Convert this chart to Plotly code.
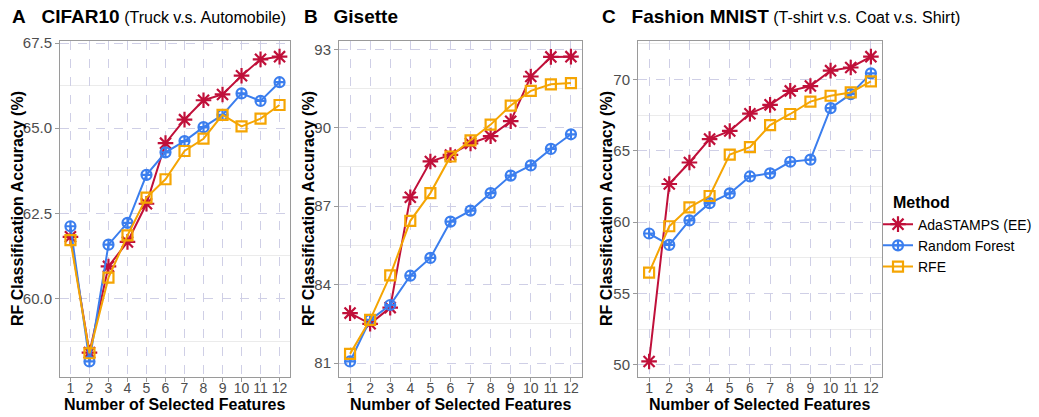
import plotly.graph_objects as go

features = list(range(1, 13))
methods = ["AdaSTAMPS (EE)", "Random Forest", "RFE"]

cifar_ada = [61.81, 58.41, 60.94, 61.66, 62.78, 64.56, 65.25, 65.82, 65.99, 66.54, 67.02, 67.10]
cifar_rf = [62.12, 58.15, 61.58, 62.22, 63.63, 64.29, 64.62, 65.03, 65.39, 66.02, 65.80, 66.35]
cifar_rfe = [61.71, 58.39, 60.61, 61.85, 62.96, 63.50, 64.33, 64.69, 65.39, 65.05, 65.28, 65.68]

gis_ada = [82.91, 82.50, 83.12, 87.34, 88.71, 88.96, 89.40, 89.68, 90.25, 91.96, 92.71, 92.72]
gis_rf = [81.06, 82.65, 83.22, 84.34, 85.02, 86.41, 86.83, 87.50, 88.17, 88.56, 89.19, 89.75]
gis_rfe = [81.35, 82.65, 84.35, 86.44, 87.50, 88.90, 89.52, 90.12, 90.85, 91.41, 91.66, 91.71]

fm_ada = [50.23, 62.67, 64.18, 65.82, 66.39, 67.60, 68.22, 69.20, 69.54, 70.62, 70.84, 71.60]
fm_rf = [59.20, 58.40, 60.12, 61.33, 62.01, 63.20, 63.42, 64.23, 64.38, 67.99, 68.97, 70.43]
fm_rfe = [56.46, 59.71, 61.03, 61.83, 64.73, 65.25, 66.80, 67.58, 68.45, 68.86, 69.09, 69.86]

titles_bold = ["A&nbsp;&nbsp;&nbsp;CIFAR10", "B&nbsp;&nbsp;&nbsp;Gisette", "C&nbsp;&nbsp;&nbsp;Fashion MNIST"]
titles_sub = [" (Truck v.s. Automobile)", "", " (T-shirt v.s. Coat v.s. Shirt)"]
y_ticks = [[60.0, 62.5, 65.0, 67.5], [81, 84, 87, 90, 93], [50, 55, 60, 65, 70]]
y_ticktext = [["60.0", "62.5", "65.0", "67.5"], ["81", "84", "87", "90", "93"], ["50", "55", "60", "65", "70"]]
x_label = "Number of Selected Features"
y_label = "RF Classification Accuracy (%)"
legend_title = "Method"

panels = [
    (cifar_ada, cifar_rf, cifar_rfe),
    (gis_ada, gis_rf, gis_rfe),
    (fm_ada, fm_rf, fm_rfe),
]

colors = ["#C0103A", "#3B7EEE", "#F5A503"]
symbols = ["asterisk-open", "circle-cross-open", "square-open"]
sizes = [13, 10, 10]

W, H = 1039, 417
xdoms = [(60, 290), (339, 582), (638, 882)]
title_x = [10, 302, 600]
ytitle_x = [17, 308, 606]
ytop, ybot = 35, 376
ydom = [1 - ybot / H, 1 - ytop / H]

fig = go.Figure()
FONT = "Liberation Sans, Arial, sans-serif"

for i, series in enumerate(panels):
    xa = "x" if i == 0 else f"x{i+1}"
    ya = "y" if i == 0 else f"y{i+1}"
    for j, vals in enumerate(series):
        fig.add_trace(go.Scatter(
            x=features, y=vals, xaxis=xa, yaxis=ya,
            mode="lines+markers", name=methods[j],
            legendgroup=methods[j], showlegend=(i == 0),
            line=dict(color=colors[j], width=2),
            marker=dict(symbol=symbols[j], size=sizes[j], color=colors[j],
                        line=dict(color=colors[j], width=2.2)),
        ))
    allv = [v for s in series for v in s]
    lo, hi = min(allv), max(allv)
    pad = (hi - lo) * 0.05
    d = y_ticks[i][1] - y_ticks[i][0]
    xkey = "xaxis" if i == 0 else f"xaxis{i+1}"
    ykey = "yaxis" if i == 0 else f"yaxis{i+1}"
    fig.update_layout(**{
        xkey: dict(
            domain=[xdoms[i][0] / W, xdoms[i][1] / W], anchor=ya,
            range=[0.45, 12.55], tickvals=features,
            ticktext=[str(f) for f in features],
            showgrid=True, gridcolor="#CFCFE6", griddash="dash", gridwidth=1,
            showline=True, mirror=True, linecolor="#9A9A9A", linewidth=1,
            ticks="outside", ticklen=4, tickcolor="#9A9A9A",
            ticklabelstandoff=-5,
            tickfont=dict(family=FONT, size=14, color="#4D4D4D"),
            zeroline=False,
        ),
        ykey: dict(
            domain=ydom, anchor=xa,
            range=[lo - pad, hi + pad], tickvals=y_ticks[i], ticktext=y_ticktext[i],
            showgrid=True, gridcolor="#CFCFE6", griddash="dash", gridwidth=1,
            minor=dict(tickvals=[t + d / 2 for t in [y_ticks[i][0] - d] + y_ticks[i]],
                       showgrid=True, gridcolor="#EBEBEB", griddash="solid", gridwidth=1, ticks=""),
            showline=True, mirror=True, linecolor="#9A9A9A", linewidth=1,
            ticks="outside", ticklen=4, tickcolor="#9A9A9A",
            tickfont=dict(family=FONT, size=15, color="#4D4D4D"),
            zeroline=False,
        ),
    })
    # panel title
    fig.add_annotation(
        x=title_x[i] / W, y=1 - 10 / H, xref="paper", yref="paper",
        xanchor="left", yanchor="middle",
        text=f"<b>{titles_bold[i]}</b><span style='font-size:16px'>{titles_sub[i]}</span>",
        showarrow=False, font=dict(family=FONT, size=19, color="black"),
    )
    # x-axis title
    fig.add_annotation(
        x=(xdoms[i][0] + xdoms[i][1]) / 2 / W, y=1 - 404 / H, xref="paper", yref="paper",
        xanchor="center", yanchor="middle", text=f"<b>{x_label}</b>",
        showarrow=False, font=dict(family=FONT, size=16, color="black"),
    )
    # y-axis title
    fig.add_annotation(
        x=ytitle_x[i] / W, y=(ydom[0] + ydom[1]) / 2, xref="paper", yref="paper",
        xanchor="center", yanchor="middle", text=f"<b>{y_label}</b>", textangle=-90,
        showarrow=False, font=dict(family=FONT, size=16, color="black"),
    )

# legend title
fig.add_annotation(
    x=891 / W, y=1 - 199 / H, xref="paper", yref="paper",
    xanchor="left", yanchor="middle", text=f"<b>{legend_title}</b>",
    showarrow=False, font=dict(family=FONT, size=16, color="black"),
)

fig.update_layout(
    width=W, height=H, margin=dict(l=0, r=0, t=0, b=0),
    paper_bgcolor="white", plot_bgcolor="white",
    font=dict(family=FONT),
    legend=dict(
        x=878 / W, y=1 - 205 / H, xanchor="left", yanchor="top",
        font=dict(family=FONT, size=14, color="black"),
        tracegroupgap=0, itemwidth=30, bgcolor="rgba(0,0,0,0)",
    ),
)

fig.write_html("out.html", config={"displayModeBar": False},
               post_script="document.body.style.margin='0px';document.body.style.padding='0px';")
